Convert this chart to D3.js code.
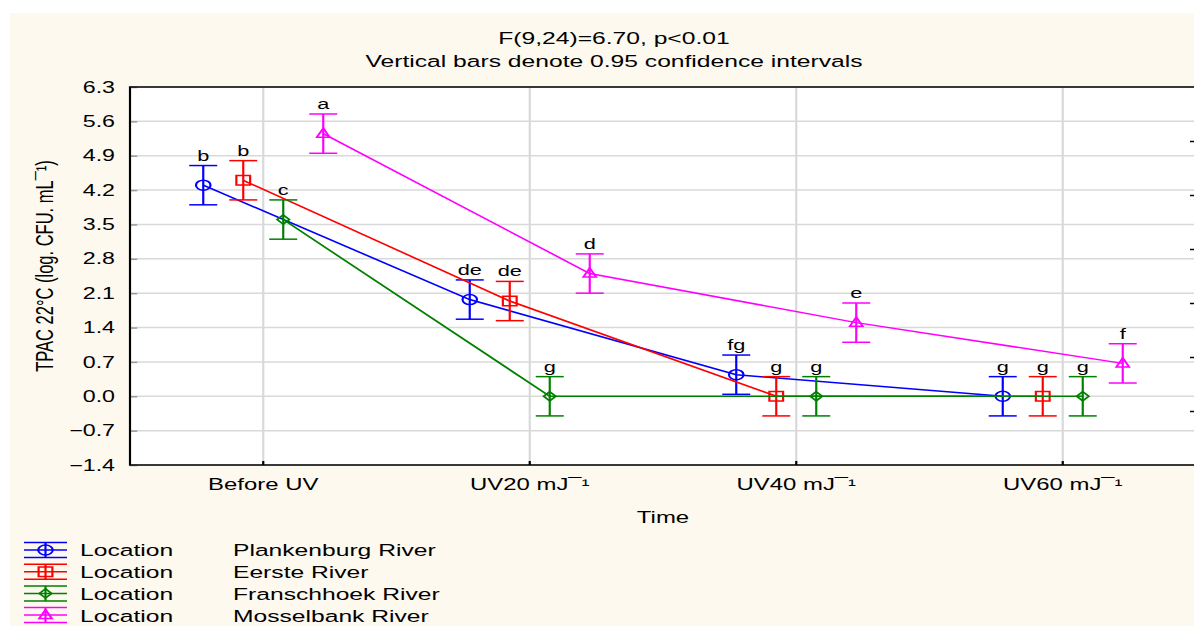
<!DOCTYPE html>
<html>
<head>
<meta charset="utf-8">
<script src="https://cdn.jsdelivr.net/npm/d3@7"></script>
<style>
  html, body { margin: 0; padding: 0; background: #ffffff; overflow: hidden; }
  svg { display: block; }
  text { font-family: "Liberation Sans", Arial, Helvetica, sans-serif; fill: #000; }
</style>
</head>
<body>
<svg id="chart"></svg>
<script>
// ---- data ----
const categories = ["Before UV", "UV20 mJ\u00AF\u00B9", "UV40 mJ\u00AF\u00B9", "UV60 mJ\u00AF\u00B9"];
const seriesNames = ["Plankenburg River", "Eerste River", "Franschhoek River", "Mosselbank River"];

// means (log CFU/mL) per time point
const plankenburg = [4.30, 1.97, 0.44, 0.00];
const eerste      = [4.40, 1.94, 0.00, 0.00];
const franschhoek = [3.60, 0.00, 0.00, 0.00];
const mosselbank  = [5.35, 2.50, 1.50, 0.67];

// half-widths of the 0.95 confidence intervals
const plankenburgCI = [0.40, 0.40, 0.40, 0.40];
const eersteCI      = [0.40, 0.40, 0.40, 0.40];
const franschhoekCI = [0.40, 0.40, 0.40, 0.40];
const mosselbankCI  = [0.40, 0.40, 0.40, 0.40];

// homogeneous-group letters
const plankenburgGroups = ["b", "de", "fg", "g"];
const eersteGroups      = ["b", "de", "g", "g"];
const franschhoekGroups = ["c", "g", "g", "g"];
const mosselbankGroups  = ["a", "d", "e", "f"];

const yTicks = [-1.4, -0.7, 0.0, 0.7, 1.4, 2.1, 2.8, 3.5, 4.2, 4.9, 5.6, 6.3];
const rightTicks = [5.2, 4.1, 3.0, 1.9, 0.8, -0.3];

const titleLines = ["F(9,24)=6.70, p<0.01", "Vertical bars denote 0.95 confidence intervals"];
const xTitle = "Time";
const yTitle = "TPAC 22\u00B0C (log. CFU. mL\u00AF\u00B9)";
const legendPrefix = "Location";

// ---- layout ----
const PX_W = 1194, PX_H = 626;
const SX = 1.45;                 // horizontal stretch of the whole graph
const W = PX_W / SX;
const H = PX_H;
const colors = ["#0000ff", "#ff0000", "#008000", "#ff00ff"];
const shapes = ["circle", "square", "diamond", "triangle"];

const plotLeft = 130 / SX, plotRight = 1196 / SX, plotTop = 87, plotBottom = 465;

const series = [
  { name: seriesNames[0], values: plankenburg, ci: plankenburgCI, groups: plankenburgGroups },
  { name: seriesNames[1], values: eerste,      ci: eersteCI,      groups: eersteGroups },
  { name: seriesNames[2], values: franschhoek, ci: franschhoekCI, groups: franschhoekGroups },
  { name: seriesNames[3], values: mosselbank,  ci: mosselbankCI,  groups: mosselbankGroups }
];

const svg = d3.select("#chart")
  .attr("width", PX_W).attr("height", PX_H)
  .attr("viewBox", `0 0 ${W} ${H}`)
  .attr("preserveAspectRatio", "none");

// page background
svg.append("rect").attr("x", 10 / SX).attr("y", 13)
  .attr("width", W).attr("height", H).attr("fill", "#fdf9ef");

// plot area
svg.append("rect").attr("x", plotLeft).attr("y", plotTop)
  .attr("width", plotRight - plotLeft).attr("height", plotBottom - plotTop).attr("fill", "#ffffff");

const x = d3.scaleBand().domain(categories).range([plotLeft, plotRight]);
const xc = c => x(c) + x.bandwidth() / 2;
const offset = d3.scalePoint().domain(seriesNames).range([-60 / SX, 60 / SX]);
const y = d3.scaleLinear().domain([-1.4, 6.3]).range([plotBottom, plotTop]);

// grid
const grid = svg.append("g");
grid.selectAll("line.h").data(yTicks).join("line")
  .attr("x1", plotLeft).attr("x2", plotRight)
  .attr("y1", d => y(d)).attr("y2", d => y(d))
  .attr("stroke", "#d9d9d9").attr("stroke-width", 1.5);
grid.selectAll("line.v").data(categories).join("line")
  .attr("x1", d => xc(d)).attr("x2", d => xc(d))
  .attr("y1", plotTop).attr("y2", plotBottom)
  .attr("stroke", "#d9d9d9").attr("stroke-width", 1.5);

// axes
const yAxis = svg.append("g").attr("transform", `translate(${plotLeft},0)`)
  .call(d3.axisLeft(y).tickValues(yTicks).tickFormat(d3.format(".1f"))
    .tickSizeInner(-5).tickSizeOuter(0).tickPadding(15 / SX));
yAxis.select(".domain").remove();
yAxis.selectAll(".tick line").attr("stroke", "#9a9a9a").attr("stroke-width", 1.5);
yAxis.selectAll(".tick text").attr("font-size", 16).attr("fill", "#000")
  .attr("font-family", "'Liberation Sans', Arial, sans-serif");

const rAxis = svg.append("g").attr("transform", `translate(${plotRight},0)`)
  .call(d3.axisRight(y).tickValues(rightTicks).tickFormat("")
    .tickSizeInner(-6 / SX).tickSizeOuter(0));
rAxis.select(".domain").remove();
rAxis.selectAll(".tick line").attr("stroke", "#000").attr("stroke-width", 1.5);

const xAxis = svg.append("g").attr("transform", `translate(0,${plotBottom})`)
  .call(d3.axisBottom(x).tickSizeInner(-4).tickSizeOuter(0).tickPadding(13.3));
xAxis.select(".domain").remove();
xAxis.selectAll(".tick line").attr("stroke", "#000").attr("stroke-width", 1.5);
xAxis.selectAll(".tick text").attr("font-size", 16.5).attr("fill", "#000")
  .attr("font-family", "'Liberation Sans', Arial, sans-serif");

// frame
svg.append("rect").attr("x", plotLeft).attr("y", plotTop)
  .attr("width", plotRight - plotLeft).attr("height", plotBottom - plotTop)
  .attr("fill", "none").attr("stroke", "#000").attr("stroke-width", 1.5);

// markers
function markerPath(shape) {
  switch (shape) {
    case "circle":  return "M5,0A5,5 0 1,1 -5,0A5,5 0 1,1 5,0Z";
    case "square":  return "M-4.75,-4.75H4.75V4.75H-4.75Z";
    case "diamond": return "M0,-4.6L4.2,0L0,4.6L-4.2,0Z";
    default:        return "M0,-5.5L4.4,3.5L-4.4,3.5Z";
  }
}

const capHalf = 14 / SX;
const line = d3.line().x(d => d.x).y(d => y(d.v));

series.forEach((s, i) => {
  const pts = categories.map((c, j) => ({
    x: xc(c) + offset(s.name), v: s.values[j], ci: s.ci[j], g: s.groups[j]
  }));
  const g = svg.append("g").attr("stroke", colors[i]).attr("fill", "none").attr("stroke-width", 1.5);
  g.append("path").datum(pts).attr("d", line);
  const pt = g.selectAll("g.pt").data(pts).join("g");
  pt.append("line").attr("x1", d => d.x).attr("x2", d => d.x)
    .attr("y1", d => y(d.v - d.ci)).attr("y2", d => y(d.v + d.ci));
  pt.append("line").attr("x1", d => d.x - capHalf).attr("x2", d => d.x + capHalf)
    .attr("y1", d => y(d.v + d.ci)).attr("y2", d => y(d.v + d.ci));
  pt.append("line").attr("x1", d => d.x - capHalf).attr("x2", d => d.x + capHalf)
    .attr("y1", d => y(d.v - d.ci)).attr("y2", d => y(d.v - d.ci));
  pt.append("path").attr("d", markerPath(shapes[i]))
    .attr("transform", d => `translate(${d.x},${y(d.v)})`);
  svg.append("g").selectAll("text").data(pts).join("text")
    .attr("x", d => d.x).attr("y", d => y(d.v + d.ci) - 5)
    .attr("text-anchor", "middle").attr("font-size", 15)
    .text(d => d.g);
});

// titles
titleLines.forEach((t, k) => {
  svg.append("text").attr("x", 614 / SX).attr("y", 44 + k * 23)
    .attr("text-anchor", "middle").attr("font-size", 17).text(t);
});
svg.append("text").attr("x", (plotLeft + plotRight) / 2).attr("y", 523)
  .attr("text-anchor", "middle").attr("font-size", 16.5).text(xTitle);
svg.append("text").attr("transform", `translate(${53 / SX},266) rotate(-90)`)
  .attr("text-anchor", "middle").attr("font-size", 16.5).text(yTitle);

// legend
const legend = svg.append("g");
series.forEach((s, i) => {
  const ry = 550 + i * 21.7;
  const lg = legend.append("g").attr("stroke", colors[i]).attr("fill", "none").attr("stroke-width", 1.5);
  [-7.5, 0, 7.5].forEach(dy => {
    lg.append("line").attr("x1", 24 / SX).attr("x2", 67 / SX).attr("y1", ry + dy).attr("y2", ry + dy);
  });
  lg.append("line").attr("x1", 45.5 / SX).attr("x2", 45.5 / SX).attr("y1", ry - 7.5).attr("y2", ry + 7.5);
  lg.append("path").attr("d", markerPath(shapes[i])).attr("transform", `translate(${45.5 / SX},${ry})`);
  legend.append("text").attr("x", 80 / SX).attr("y", ry + 6.5).attr("font-size", 17).text(legendPrefix);
  legend.append("text").attr("x", 233 / SX).attr("y", ry + 6.5).attr("font-size", 17).text(s.name);
});
</script>
</body>
</html>
